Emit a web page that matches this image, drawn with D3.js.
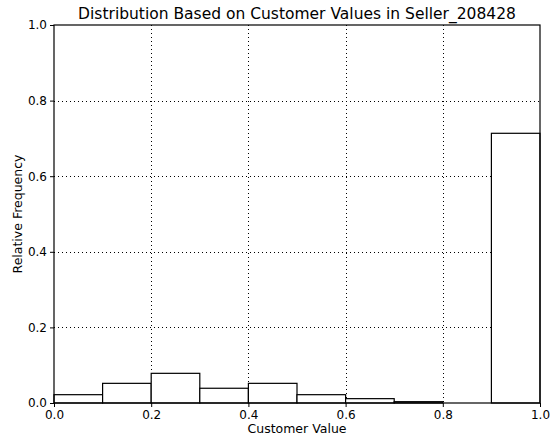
<!DOCTYPE html>
<html>
<head>
<meta charset="utf-8">
<script src="https://cdn.jsdelivr.net/npm/d3@7"></script>
<style>
  html, body { margin: 0; padding: 0; background: #fff; }
  svg { display: block; font-family: "DejaVu Sans", sans-serif; }
</style>
</head>
<body>
<svg id="chart" width="550" height="437"></svg>
<script>
// Histogram bins (lower edges), bin width and relative frequencies
const binStarts = [0.0, 0.1, 0.2, 0.3, 0.4, 0.5, 0.6, 0.7, 0.8, 0.9];
const binWidth = 0.1;
const frequencies = [0.022, 0.052, 0.0785, 0.039, 0.052, 0.022, 0.0115, 0.0035, 0.0, 0.7135];
const xTicks = [0.0, 0.2, 0.4, 0.6, 0.8, 1.0];
const yTicks = [0.0, 0.2, 0.4, 0.6, 0.8, 1.0];

const titleText = "Distribution Based on Customer Values in Seller_208428";
const xLabel = "Customer Value";
const yLabel = "Relative Frequency";

const margin = { top: 25, right: 10, bottom: 34, left: 54 };
const W = 550, H = 437;
const innerW = W - margin.left - margin.right;
const innerH = H - margin.top - margin.bottom;

const svg = d3.select("#chart");
const g = svg.append("g").attr("transform", `translate(${margin.left},${margin.top})`);

const x = d3.scaleLinear().domain([0, 1]).range([0, innerW]);
const y = d3.scaleLinear().domain([0, 1]).range([innerH, 0]);

// Dotted grid lines
const grid = g.append("g").attr("class", "grid");
grid.selectAll("line.vx").data(xTicks.slice(1, -1)).join("line")
  .attr("x1", d => Math.round(x(d)) + 0.5).attr("x2", d => Math.round(x(d)) + 0.5)
  .attr("y1", 0).attr("y2", innerH)
  .attr("stroke", "#000").attr("stroke-width", 1).attr("stroke-dasharray", "1,3");
grid.selectAll("line.hy").data(yTicks.slice(1, -1)).join("line")
  .attr("y1", d => Math.round(y(d)) + 0.5).attr("y2", d => Math.round(y(d)) + 0.5)
  .attr("x1", 0).attr("x2", innerW)
  .attr("stroke", "#000").attr("stroke-width", 1).attr("stroke-dasharray", "1,3");

// Histogram bars
g.selectAll("rect.bar").data(binStarts.map((s, i) => ({ s, v: frequencies[i] })))
  .join("rect")
  .attr("class", "bar")
  .attr("x", d => x(d.s))
  .attr("width", d => x(d.s + binWidth) - x(d.s))
  .attr("y", d => y(d.v))
  .attr("height", d => y(0) - y(d.v))
  .attr("fill", "#fff")
  .attr("stroke", "#000")
  .attr("stroke-width", 1.2);

// Axes
const xAxis = d3.axisBottom(x).tickValues(xTicks).tickFormat(d3.format(".1f"))
  .tickSizeInner(4).tickSizeOuter(0).tickPadding(3);
const yAxis = d3.axisLeft(y).tickValues(yTicks).tickFormat(d3.format(".1f"))
  .tickSizeInner(4).tickSizeOuter(0).tickPadding(3);

const gx = g.append("g").attr("transform", `translate(0,${innerH})`).call(xAxis);
const gy = g.append("g").call(yAxis);
[gx, gy].forEach(a => {
  a.select(".domain").remove();
  a.selectAll("text").attr("font-size", 12).attr("fill", "#000")
    .attr("font-family", "DejaVu Sans, sans-serif");
  a.selectAll("line").attr("stroke", "#000");
});

// Plot frame
g.append("rect").attr("x", 0).attr("y", 0).attr("width", innerW).attr("height", innerH)
  .attr("fill", "none").attr("stroke", "#000").attr("stroke-width", 1.2);

// Titles
svg.append("text").attr("x", margin.left + innerW / 2).attr("y", 19)
  .attr("text-anchor", "middle").attr("font-size", 15.5).attr("fill", "#000")
  .text(titleText);
svg.append("text").attr("x", margin.left + innerW / 2).attr("y", 433)
  .attr("text-anchor", "middle").attr("font-size", 12.5).attr("fill", "#000")
  .text(xLabel);
svg.append("text")
  .attr("transform", `translate(22,${margin.top + innerH / 2}) rotate(-90)`)
  .attr("text-anchor", "middle").attr("font-size", 12.5).attr("fill", "#000")
  .text(yLabel);
</script>
</body>
</html>
